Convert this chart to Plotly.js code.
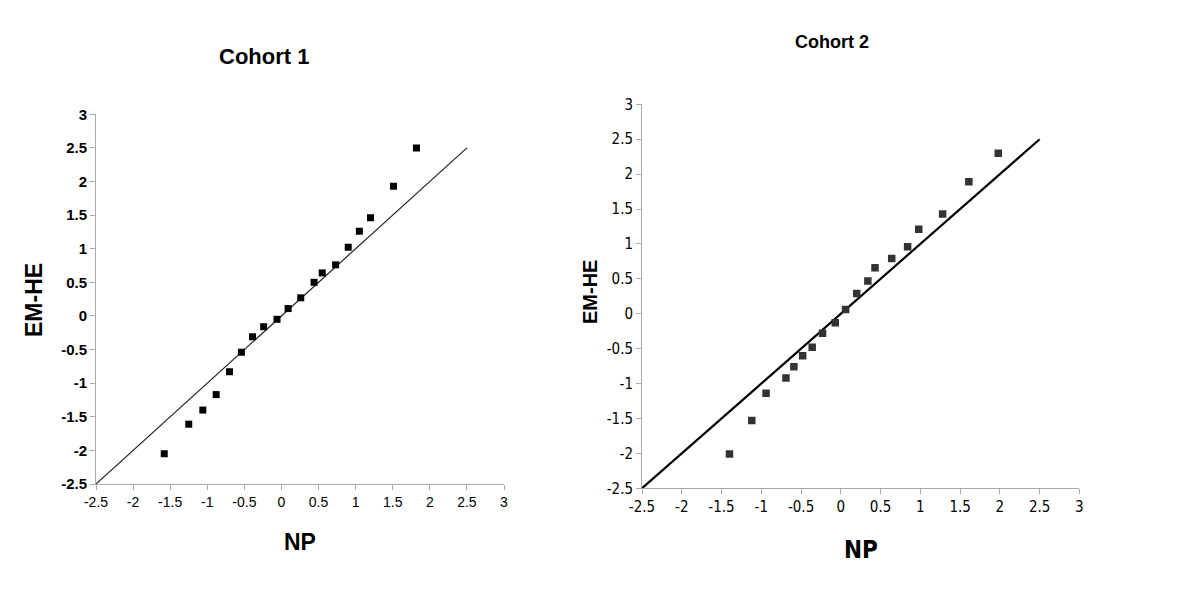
<!DOCTYPE html>
<html>
<head>
<meta charset="utf-8">
<script src="https://cdn.plot.ly/plotly-3.0.1.min.js"></script>
<style>html,body{margin:0;padding:0;background:#fff;}#chart{width:1200px;height:593px;}</style>
</head>
<body>
<div id="chart"></div>
<script>
// Cohort 1 data
var cohort1_np = [-1.58, -1.25, -1.06, -0.88, -0.70, -0.54, -0.39, -0.24, -0.06, 0.09, 0.26, 0.44, 0.55, 0.73, 0.90, 1.05, 1.20, 1.51, 1.82];
var cohort1_emhe = [-2.05, -1.61, -1.40, -1.17, -0.83, -0.54, -0.31, -0.16, -0.05, 0.11, 0.27, 0.50, 0.64, 0.76, 1.02, 1.26, 1.46, 1.93, 2.50];
// Cohort 2 data
var cohort2_np = [-1.40, -1.12, -0.94, -0.69, -0.59, -0.48, -0.36, -0.23, -0.07, 0.06, 0.20, 0.34, 0.43, 0.64, 0.84, 0.98, 1.28, 1.61, 1.98];
var cohort2_emhe = [-2.01, -1.53, -1.14, -0.92, -0.76, -0.60, -0.48, -0.28, -0.13, 0.06, 0.29, 0.47, 0.66, 0.79, 0.96, 1.21, 1.43, 1.89, 2.30];
// Reference line (identity)
var ref_line = [-2.5, 2.5];
var tick_vals = [-2.5, -2, -1.5, -1, -0.5, 0, 0.5, 1, 1.5, 2, 2.5, 3];
var tick_labels = ['-2.5', '-2', '-1.5', '-1', '-0.5', '0', '0.5', '1', '1.5', '2', '2.5', '3'];

var traces = [
  {x: ref_line, y: ref_line, mode: 'lines', line: {color: '#222', width: 1.2}, xaxis: 'x', yaxis: 'y', hoverinfo: 'skip'},
  {x: cohort1_np, y: cohort1_emhe, mode: 'markers', marker: {symbol: 'square', size: 7, color: '#000'}, xaxis: 'x', yaxis: 'y'},
  {x: ref_line, y: ref_line, mode: 'lines', line: {color: '#000', width: 2.2}, xaxis: 'x2', yaxis: 'y2', hoverinfo: 'skip'},
  {x: cohort2_np, y: cohort2_emhe, mode: 'markers', marker: {symbol: 'square', size: 7.5, color: '#333'}, xaxis: 'x2', yaxis: 'y2'}
];

function ax(extra) {
  var base = {
    range: [-2.5, 3], tickmode: 'array', tickvals: tick_vals, ticktext: tick_labels,
    showgrid: false, zeroline: false, showline: true, linecolor: '#aaa', linewidth: 1,
    ticks: 'outside', ticklen: 5, tickcolor: '#aaa', tickwidth: 1, fixedrange: true
  };
  for (var k in extra) base[k] = extra[k];
  return base;
}

var narrow = '"Liberation Sans Narrow", "DejaVu Sans Condensed", "Arial Narrow", sans-serif';
var arial = '"Liberation Sans", Arial, sans-serif';

var layout = {
  width: 1200, height: 593,
  margin: {l: 0, r: 0, t: 0, b: 0},
  paper_bgcolor: '#fff', plot_bgcolor: '#fff',
  showlegend: false,
  xaxis: ax({domain: [0.080, 0.420], anchor: 'y', tickfont: {family: arial, size: 14, color: '#000'}}),
  yaxis: ax({domain: [0.1838, 0.8073], anchor: 'x', ticktext: tick_labels.map(function(t){return '<b>' + t + '</b>';}), tickfont: {family: arial, size: 15, color: '#000', weight: 'bold'}}),
  xaxis2: ax({domain: [0.535, 0.8995], anchor: 'y2', tickfont: {family: narrow, size: 15, color: '#000'}}),
  yaxis2: ax({domain: [0.1766, 0.8241], anchor: 'x2', tickfont: {family: narrow, size: 15, color: '#000'}}),
  annotations: [
    {text: 'Cohort 1', x: 264/1200, y: 1-56/593, xref: 'paper', yref: 'paper', xanchor: 'center', yanchor: 'middle', showarrow: false, font: {family: arial, size: 22, color: '#000', weight: 'bold'}},
    {text: 'Cohort 2', x: 832/1200, y: 1-42/593, xref: 'paper', yref: 'paper', xanchor: 'center', yanchor: 'middle', showarrow: false, font: {family: arial, size: 18, color: '#000', weight: 'bold'}},
    {text: 'NP', x: 300/1200, y: 1-542/593, xref: 'paper', yref: 'paper', xanchor: 'center', yanchor: 'middle', showarrow: false, font: {family: arial, size: 23, color: '#000', weight: 'bold'}},
    {text: 'NP', x: 861/1200, y: 1-550/593, xref: 'paper', yref: 'paper', xanchor: 'center', yanchor: 'middle', showarrow: false, font: {family: narrow, size: 24, color: '#000', weight: 'bold'}},
    {text: 'EM-HE', x: 34/1200, y: 1-300/593, xref: 'paper', yref: 'paper', xanchor: 'center', yanchor: 'middle', textangle: -90, showarrow: false, font: {family: arial, size: 23, color: '#000', weight: 'bold'}},
    {text: 'EM-HE', x: 590/1200, y: 1-292/593, xref: 'paper', yref: 'paper', xanchor: 'center', yanchor: 'middle', textangle: -90, showarrow: false, font: {family: arial, size: 20, color: '#000', weight: 'bold'}}
  ]
};

Plotly.newPlot('chart', traces, layout, {displayModeBar: false, staticPlot: true});
</script>
</body>
</html>
